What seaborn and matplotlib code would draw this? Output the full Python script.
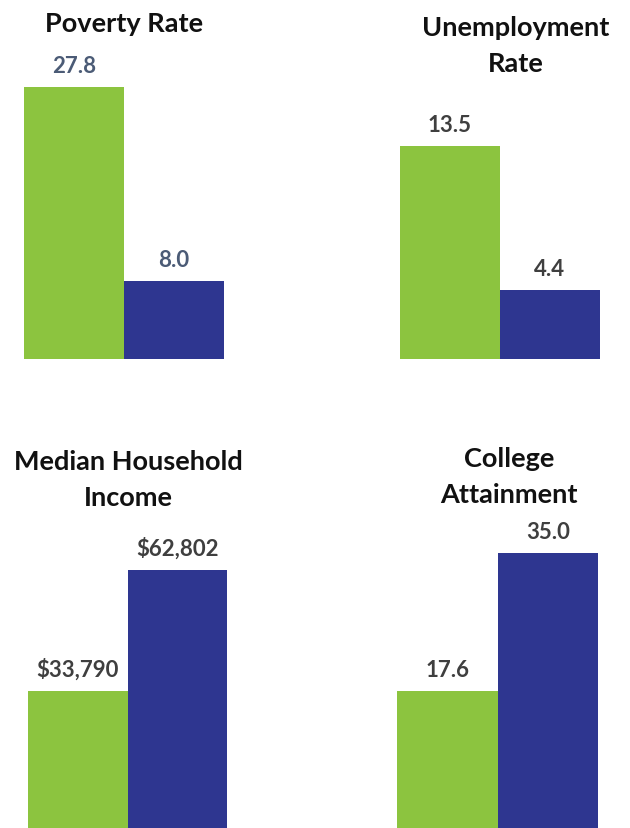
import matplotlib
matplotlib.use("Agg")
import matplotlib.pyplot as plt
import seaborn as sns

# Indicator values: local area (green) vs. comparison (blue)
titles = ["Poverty Rate", "Unemployment\nRate", "Median Household\nIncome", "College\nAttainment"]
local_values = [27.8, 13.5, 33790, 17.6]
comparison_values = [8.0, 4.4, 62802, 35.0]
label_formats = ["{:.1f}", "{:.1f}", "${:,.0f}", "{:.1f}"]
label_colors = ["#4b5b76", "#3f3f3f", "#3f3f3f", "#3f3f3f"]
groups = ["Local", "Comparison"]

GREEN = "#8cc43f"
BLUE = "#2e3690"

sns.set_theme(style="white")
plt.rcParams["font.family"] = ["Lato", "DejaVu Sans"]

W, H = 630, 829
fig = plt.figure(figsize=(W / 100, H / 100), dpi=100)
fig.patch.set_facecolor("white")

# Panel frames in pixels: (left, top, right, base), plus title centre x and
# baseline y of the title's last line
frames = [(24, 88, 224, 360), (400, 147, 600, 360), (28, 571, 227, 833), (397, 554, 598, 832)]
title_pos = [(124, 32), (516, 72), (128, 506), (509, 503)]


def px_axes(left, top, right, base):
    return fig.add_axes([left / W, 1 - base / H, (right - left) / W, (base - top) / H])


for i in range(4):
    ax = px_axes(*frames[i])
    vals = [local_values[i], comparison_values[i]]
    sns.barplot(x=groups, y=vals, hue=groups, palette=[GREEN, BLUE],
                width=1.0, saturation=1, legend=False, linewidth=0, ax=ax)
    ax.set_xlim(-0.5, 1.5)
    ax.set_ylim(0, max(vals))
    ax.axis("off")
    for cont, v in zip(ax.containers, vals):
        for bar in cont:
            ax.annotate(label_formats[i].format(v),
                        xy=(bar.get_x() + bar.get_width() / 2, bar.get_height()),
                        xytext=(0, 10.8), textcoords="offset points",
                        ha="center", va="baseline", fontsize=16,
                        fontweight="bold", color=label_colors[i],
                        annotation_clip=False)
    tx, ty = title_pos[i]
    fig.text(tx / W, 1 - ty / H, titles[i], ha="center", va="baseline",
             fontsize=19.5, fontweight="bold", color="#111111",
             linespacing=1.62, multialignment="center")

fig.savefig("out.png", dpi=100, facecolor="white")
